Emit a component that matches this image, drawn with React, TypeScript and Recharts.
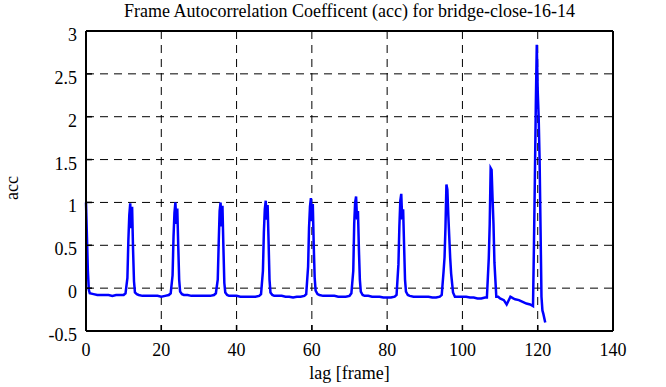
import { LineChart, Line, XAxis, YAxis, CartesianGrid } from 'recharts';

const title = 'Frame Autocorrelation Coefficent (acc) for bridge-close-16-14';

// lag in frames
const lag: number[] = [
  0, 0.25, 0.5, 0.75, 1, 2, 3, 4, 5, 6, 7, 8, 9, 10,
  10.5, 11, 11.25, 11.5, 11.75, 12, 12.25, 12.5, 12.75, 13, 13.5, 14, 15, 16, 17, 18, 19, 20, 21, 22,
  22.5, 23, 23.25, 23.5, 23.75, 24, 24.25, 24.5, 24.75, 25, 25.5, 26, 27, 28, 29, 30, 31, 32, 33, 34,
  34.5, 35, 35.25, 35.5, 35.75, 36, 36.25, 36.5, 36.75, 37, 37.5, 38, 39, 40, 41, 42, 43, 44, 45, 46,
  46.5, 47, 47.25, 47.5, 47.75, 48, 48.25, 48.5, 48.75, 49, 49.5, 50, 51, 52, 53, 54, 55, 56, 57, 58,
  58.5, 59, 59.25, 59.5, 59.75, 60, 60.25, 60.5, 60.75, 61, 61.5, 62, 63, 64, 65, 66, 67, 68, 69, 70,
  70.5, 71, 71.25, 71.5, 71.75, 72, 72.25, 72.5, 72.75, 73, 73.5, 74, 75, 76, 77, 78, 79, 80, 81, 82,
  82.5, 83, 83.25, 83.5, 83.75, 84, 84.25, 84.5, 84.75, 85, 85.5, 86, 87, 88, 89, 90, 91, 92, 93, 94,
  94.5, 95, 95.25, 95.5, 95.75, 96, 96.25, 96.5, 96.75, 97, 97.5, 98, 99, 100, 101, 102, 103, 104, 105, 106,
  106.5, 107, 107.25, 107.5, 107.75, 108, 108.25, 108.5, 108.75, 109, 109.5, 110, 111, 111.75, 112.75, 113.5, 114, 115, 116, 117, 118, 118.75,
  119, 119.25, 119.5, 119.75, 120, 120.25, 120.5, 120.75, 121, 121.25, 121.5, 122,
];

// autocorrelation coefficient
const acc: number[] = [
  1.0, 0.6, 0.2, -0.02, -0.06, -0.07, -0.08, -0.08, -0.08, -0.08, -0.09, -0.08, -0.08, -0.08,
  -0.06, 0.12, 0.55, 0.85, 0.99, 0.7, 0.95, 0.45, 0.08, -0.05, -0.07, -0.08, -0.09, -0.09, -0.09, -0.09, -0.09, -0.1, -0.09, -0.08,
  -0.06, 0.15, 0.6, 0.88, 1.0, 0.75, 0.93, 0.5, 0.1, -0.04, -0.07, -0.08, -0.08, -0.09, -0.09, -0.09, -0.09, -0.09, -0.09, -0.08,
  -0.06, 0.1, 0.52, 0.9, 1.0, 0.72, 0.96, 0.48, 0.06, -0.05, -0.08, -0.09, -0.09, -0.09, -0.1, -0.1, -0.1, -0.1, -0.1, -0.09,
  -0.07, 0.2, 0.65, 0.92, 1.02, 0.8, 0.97, 0.55, 0.1, -0.05, -0.08, -0.09, -0.09, -0.09, -0.1, -0.1, -0.11, -0.1, -0.1, -0.09,
  -0.07, 0.25, 0.7, 0.95, 1.05, 0.78, 0.98, 0.5, 0.12, -0.03, -0.07, -0.08, -0.09, -0.09, -0.09, -0.09, -0.1, -0.1, -0.1, -0.09,
  -0.06, 0.2, 0.75, 1.0, 1.07, 0.8, 0.9, 0.45, 0.1, -0.04, -0.08, -0.09, -0.09, -0.1, -0.1, -0.1, -0.11, -0.11, -0.11, -0.1,
  -0.08, 0.28, 0.72, 1.02, 1.1, 0.8, 0.92, 0.5, 0.1, -0.04, -0.08, -0.09, -0.1, -0.1, -0.1, -0.1, -0.1, -0.11, -0.11, -0.1,
  -0.08, 0.2, 0.36, 0.72, 1.21, 1.15, 0.85, 0.6, 0.35, 0.17, -0.05, -0.1, -0.1, -0.1, -0.1, -0.11, -0.11, -0.12, -0.12, -0.11,
  -0.11, 0.35, 0.75, 1.4, 1.38, 1.05, 0.75, 0.3, 0.1, -0.1, -0.1, -0.12, -0.14, -0.19, -0.1, -0.12, -0.13, -0.14, -0.16, -0.18, -0.19, -0.21,
  0.5, 1.3, 2.15, 2.84, 2.3, 2.0, 1.5, 0.7, -0.1, -0.26, -0.3, -0.4,
];

const xTicks = [0, 20, 40, 60, 80, 100, 120, 140];
const yTicks = [-0.5, 0, 0.5, 1, 1.5, 2, 2.5, 3];

const data = lag.map((l, i) => ({ lag: l, acc: acc[i] }));

const font = 'Liberation Serif';
const frame = { stroke: '#000', strokeWidth: 2 };
const tickLine = { stroke: '#000', strokeWidth: 1.5 };

const XTick = ({ x, y, payload }: any) => (
  <text x={x} y={y} dy={13} textAnchor="middle" fill="#000" fontSize={18} fontFamily={font}>
    {payload.value}
  </text>
);

const YTick = ({ x, y, payload }: any) => (
  <text x={x} y={y} dy={10} textAnchor="end" fill="#000" fontSize={18} fontFamily={font}>
    {payload.value}
  </text>
);

const XLabel = ({ viewBox }: any) => (
  <text x={viewBox.x + viewBox.width / 2} y={viewBox.y + viewBox.height - 8} textAnchor="middle" fill="#000" fontSize={18} fontFamily={font}>
    lag [frame]
  </text>
);

const TitleLabel = ({ viewBox }: any) => (
  <text x={viewBox.x + viewBox.width / 2} y={viewBox.y + 17} textAnchor="middle" fill="#000" fontSize={18} fontFamily={font}>
    {title}
  </text>
);

const YLabel = ({ viewBox }: any) => {
  const cx = viewBox.x + 18;
  const cy = viewBox.y + viewBox.height / 2 + 7;
  return (
    <text x={cx} y={cy} transform={`rotate(-90 ${cx} ${cy})`} textAnchor="middle" fill="#000" fontSize={18} fontFamily={font}>
      acc
    </text>
  );
};

export default function App() {
  return (
    <div style={{ position: 'absolute', left: 0, top: 0, width: 666, height: 387, background: '#fff' }}>
      <LineChart
        width={666}
        height={387}
        data={data}
        margin={{ top: 0, right: 0, left: 0, bottom: 0 }}
      >
        <CartesianGrid stroke="#000" strokeDasharray="8 6" />
        <XAxis
          dataKey="lag"
          type="number"
          domain={[0, 140]}
          ticks={xTicks}
          height={56}
          tickSize={-6}
          tickMargin={18}
          tick={<XTick />}
          axisLine={frame}
          tickLine={tickLine}
          label={<XLabel />}
        />
        <XAxis
          xAxisId="top"
          orientation="top"
          type="number"
          domain={[0, 140]}
          ticks={xTicks}
          allowDataOverflow
          height={31}
          tickSize={-6}
          tick={false}
          axisLine={frame}
          tickLine={tickLine}
          label={<TitleLabel />}
        />
        <YAxis
          type="number"
          domain={[-0.5, 3]}
          ticks={yTicks}
          width={86}
          tickSize={-6}
          tickMargin={15}
          tick={<YTick />}
          axisLine={frame}
          tickLine={tickLine}
          label={<YLabel />}
        />
        <YAxis
          yAxisId="right"
          orientation="right"
          type="number"
          domain={[-0.5, 3]}
          ticks={yTicks}
          allowDataOverflow
          width={53}
          tickSize={-6}
          tick={false}
          axisLine={frame}
          tickLine={tickLine}
        />
        <Line
          type="linear"
          dataKey="acc"
          stroke="#0000ff"
          strokeWidth={2.5}
          dot={false}
          isAnimationActive={false}
        />
      </LineChart>
    </div>
  );
}
